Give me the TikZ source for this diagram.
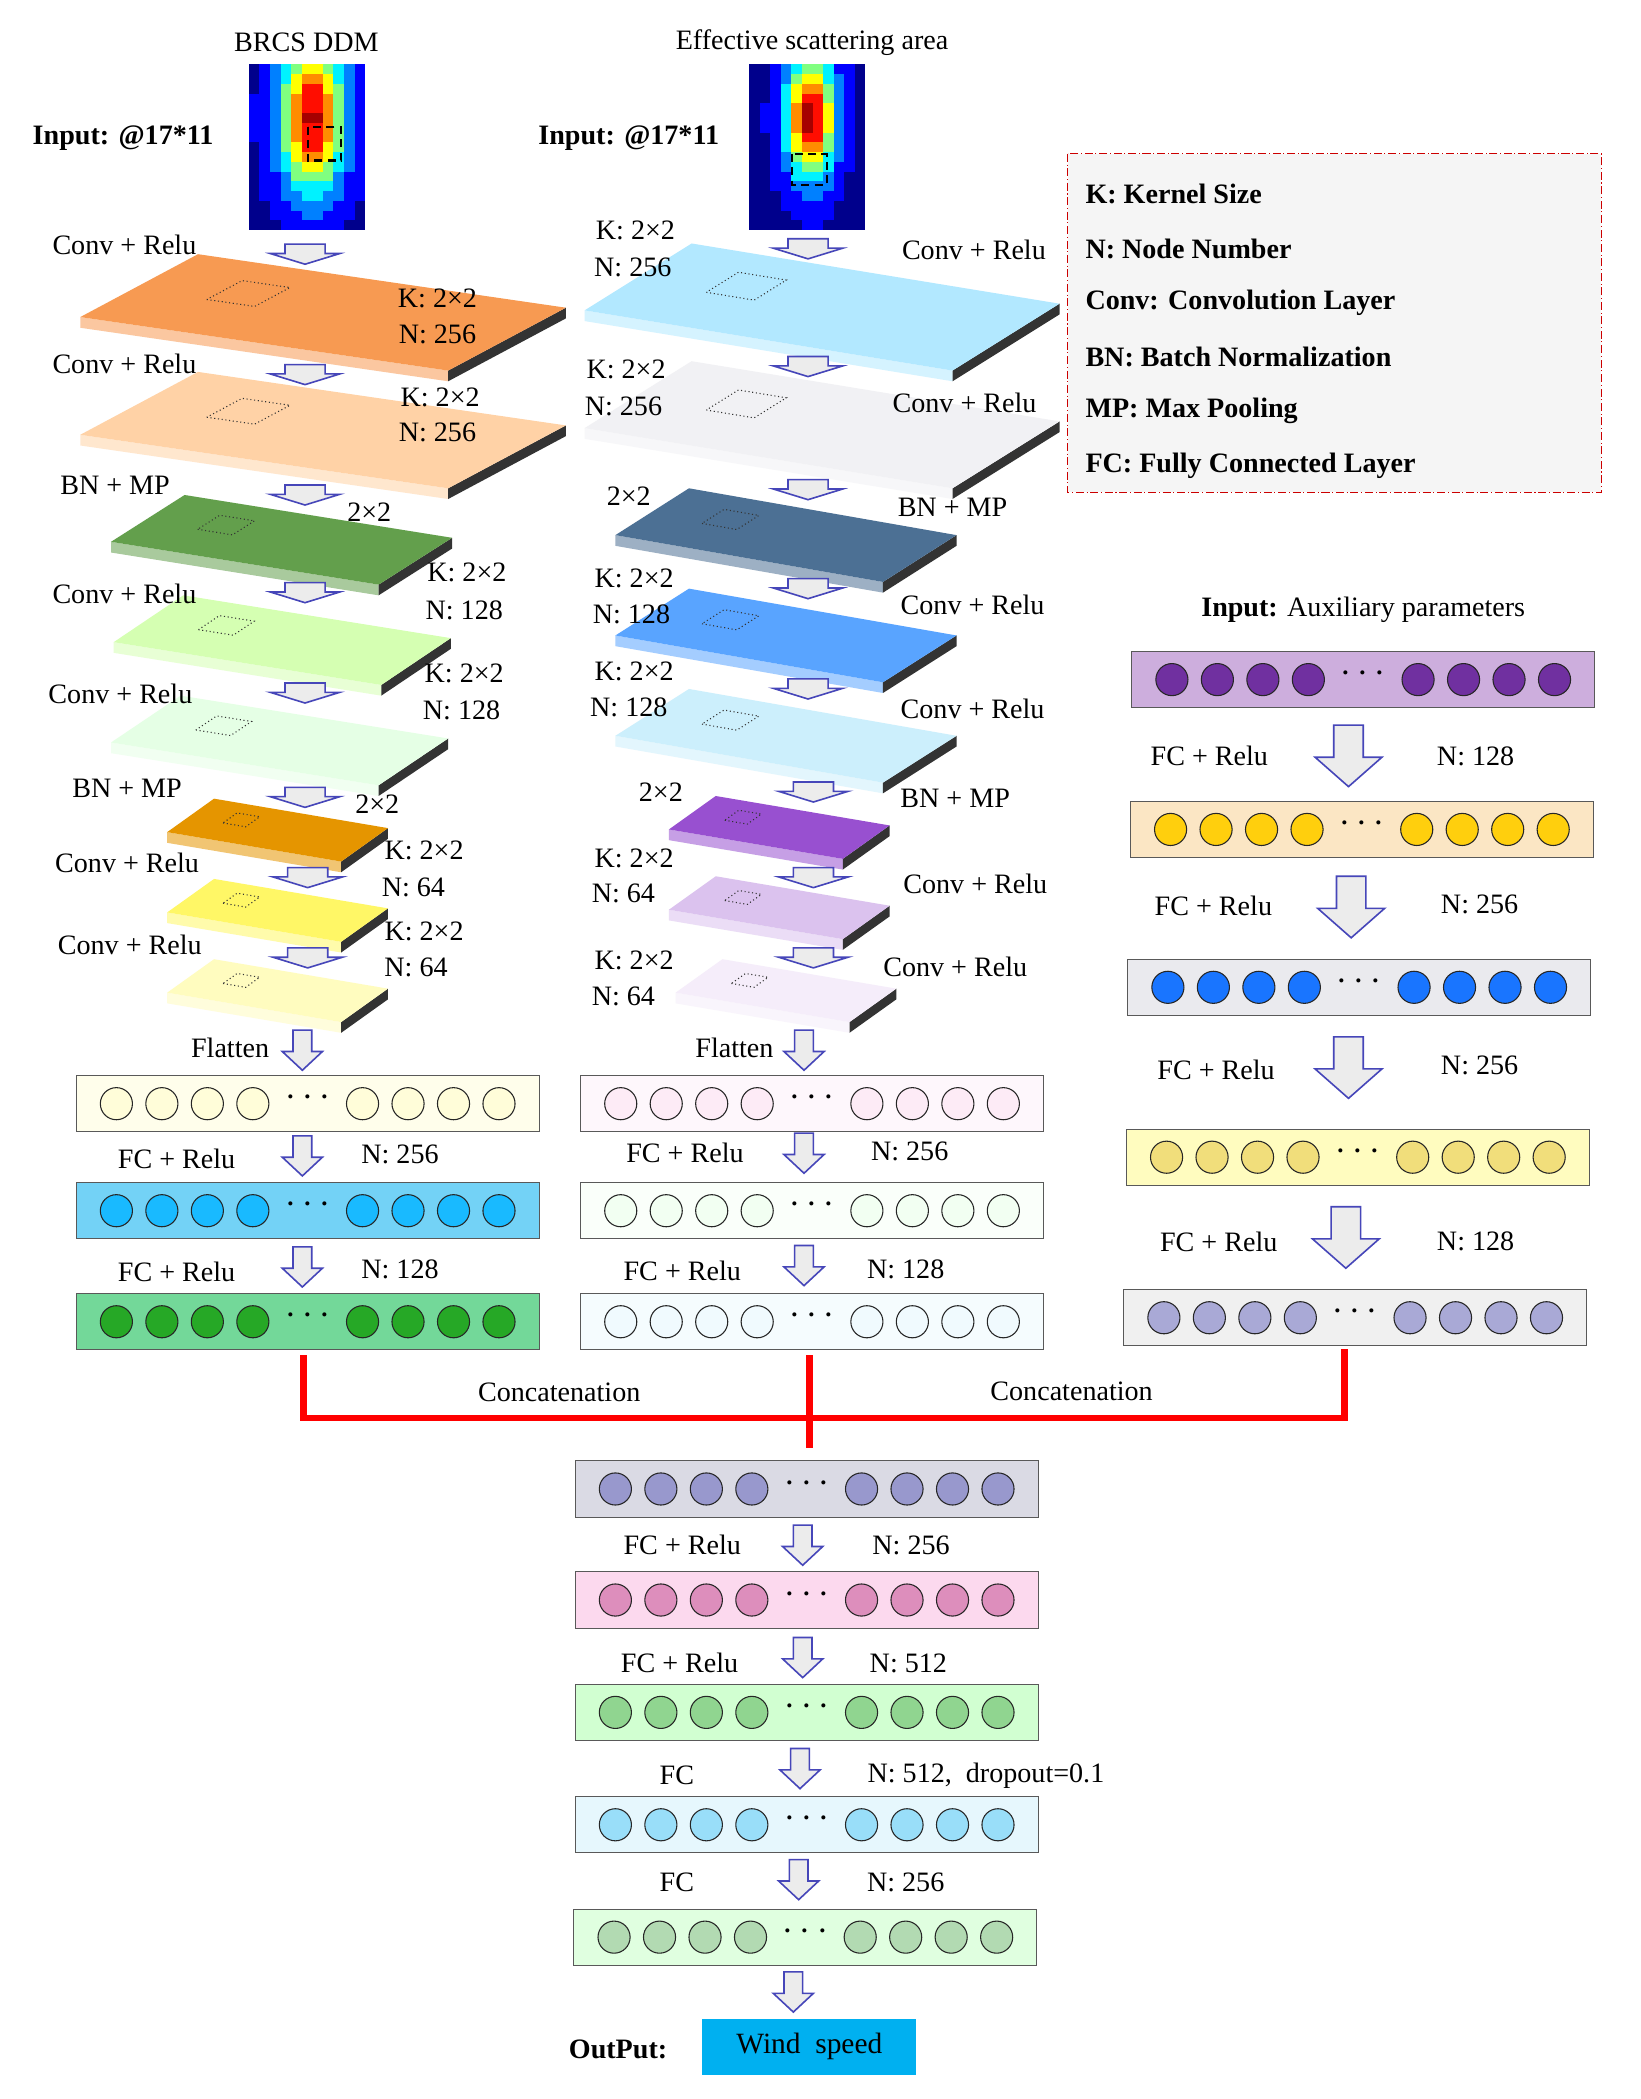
\documentclass[tikz,border=0pt]{standalone}
\usepackage{fontspec}
\setmainfont{Liberation Serif}
\usetikzlibrary{calc}
\definecolor{jet0}{rgb}{0,0,0.55}
\definecolor{jet1}{rgb}{0,0,1}
\definecolor{jet2}{rgb}{0,0.5,1}
\definecolor{jet3}{rgb}{0,0.95,1}
\definecolor{jet4}{rgb}{0.5,1,0.5}
\definecolor{jet5}{rgb}{1,1,0}
\definecolor{jet6}{rgb}{1,0.55,0}
\definecolor{jet7}{rgb}{1,0.05,0}
\definecolor{jet8}{rgb}{0.65,0,0}
\definecolor{slaborange}{HTML}{F79A52}
\definecolor{slabpurple}{HTML}{9850D0}
\definecolor{auxpurplebox}{HTML}{CDAEDD}
\definecolor{auxpurple}{HTML}{7030A0}
\definecolor{auxorangebox}{HTML}{FBE6C4}
\definecolor{windcyan}{HTML}{00B0F0}
\tikzset{
 lab/.style={font=\fontsize{10.5}{12}\selectfont, inner sep=0pt},
 blab/.style={lab, font=\fontsize{10.5}{12}\selectfont\bfseries},
 arr/.style={draw=blue!45!gray, fill=gray!15, line width=0.6pt, line join=miter},
 nbox/.style={draw=gray!70!black, minimum width=173pt, minimum height=21pt, inner sep=0pt},
}
% arrow: name cx cy shafthalf headhalf length headlength
\newcommand\myarrow[7]{%
 \draw[arr] (#2-#4,#3-0.5*#6) -- (#2+#4,#3-0.5*#6) -- (#2+#4,#3+0.5*#6-#7) -- (#2+#5,#3+0.5*#6-#7) -- (#2,#3+0.5*#6) -- (#2-#5,#3+0.5*#6-#7) -- (#2-#4,#3+0.5*#6-#7) -- cycle;
 \coordinate (#1) at (#2,#3);
}
\newcommand\bigarr[3]{\myarrow{#1}{#2}{#3}{11}{25}{46}{22}}
\newcommand\midarr[3]{\myarrow{#1}{#2}{#3}{7}{15}{30}{14}}
\newcommand\flatarr[3]{\myarrow{#1}{#2}{#3}{15}{26}{15}{8}}
% slab: Lx Ly ux uy vx vy color
\newcommand\myslab[7]{%
 \colorlet{slabc}{#7}%
 \fill[slabc!55!white] (#1,#2) -- ++(#3,#4) -- ++(0,8) -- ++(-#3,-#4) -- cycle;
 \fill[black!80] (#1,#2) ++(#3,#4) -- ++(#5,#6) -- ++(0,8) -- ++(-#5,-#6) -- cycle;
 \fill[slabc] (#1,#2) -- ++(#3,#4) -- ++(#5,#6) -- ++(-#3,-#4) -- cycle;
 \draw[densely dotted, black!80] (#1,#2) ++(0.2*#3,0.2*#4) ++(0.45*#5,0.45*#6) -- ++(0.13*#3,0.13*#4) -- ++(0.3*#5,0.3*#6) -- ++(-0.13*#3,-0.13*#4) -- cycle;
}
% neuron box: name cx cy boxcol circcol
\newcommand\mynbox[5]{%
 \node[nbox, fill=#4] (#1) at (#2,#3) {};
 \foreach \dx in {-143,-109,-75,-41,41,75,109,143}
   \draw[black!85, fill=#5] (#2+\dx,#3) circle (12);
 \node[inner sep=0pt, font=\Large\bfseries] at (#2,#3-4) {$\cdots$};
}
\newcommand\myheat[6]{% x0 y0 colcenter rowcenter colsig rowsig
 \foreach \c in {0,...,10}{\foreach \r in {0,...,16}{
  \pgfmathtruncatemacro\idx{min(8,0.7+7.6*exp(-((\c-#3)^2)/(2*#5*#5)-((\r-#4)^2)/(2*#6*#6)))}
  \fill[jet\idx] (#1+\c*7.9,#2+\r*7.3) rectangle ++(7.95,7.35);
 }}
}
\begin{document}
\begin{tikzpicture}[x=0.5pt,y=-0.5pt]
\useasboundingbox (0,0) rectangle (1226,1569);
\fill[white] (0,0) rectangle (1226,1569);

% ===== headers & heatmaps
\node[lab] (t1) at (229,32) {BRCS DDM};
\node[lab] (t2) at (607,32) {Effective scattering area};
\node[blab] (in1) at (92,103) {Input: @17*11};
\node[blab] (in2) at (470,103) {Input: @17*11};
\myheat{186}{48}{5.5}{5}{2.2}{5.5}
\draw[densely dashed, thick] (230,95) rectangle (255,120);
\myheat{560}{48}{5.3}{5}{1.7}{4.5}
\draw[densely dashed, thick] (592,115) rectangle (618,138);

% ===== legend
\draw[red!80!black, densely dashdotted, fill=gray!8] (798,115) rectangle (1197,368);
\node[blab, anchor=west] at (811,145) {K: Kernel Size};
\node[blab, anchor=west] at (811,186) {N: Node Number};
\node[blab, anchor=west] at (811,226) {Conv: Convolution Layer};
\node[blab, anchor=west] at (811,267) {BN: Batch Normalization};
\node[blab, anchor=west] at (811,307) {MP: Max Pooling};
\node[blab, anchor=west] at (811,348) {FC: Fully Connected Layer};

% ===== left column slabs
\flatarr{la1}{228}{190}
\myslab{60}{237}{275}{40}{88}{-47}{slaborange}
\flatarr{la2}{228}{280}
\myslab{60}{325}{275}{40}{88}{-47}{orange!35}
\flatarr{la3}{228}{370}
\myslab{83}{405}{200}{32}{55}{-35}{green!45!black!75!olive!70}
\flatarr{la4}{228}{443}
\myslab{85}{480}{200}{32}{52}{-35}{green!40!lime!30}
\flatarr{la5}{228}{518}
\myslab{83}{555}{200}{32}{52}{-35}{green!10}
\flatarr{la6}{228}{596}
\myslab{125}{622}{130}{22}{35}{-25}{orange!70!yellow!90!black}
\flatarr{la7}{230}{656}
\myslab{125}{682}{130}{22}{35}{-25}{yellow!60}
\flatarr{la8}{230}{716}
\myslab{125}{742}{130}{22}{35}{-25}{yellow!25}

\node[lab] at (93,183) {Conv + Relu};
\node[lab] at (327,223) {K: 2×2};
\node[lab] at (327,250) {N: 256};
\node[lab] at (93,272) {Conv + Relu};
\node[lab] at (329,297) {K: 2×2};
\node[lab] at (327,323) {N: 256};
\node[lab] at (86,363) {BN + MP};
\node[lab] at (276,383) {2×2};
\node[lab] at (93,444) {Conv + Relu};
\node[lab] at (349,428) {K: 2×2};
\node[lab] at (347,456) {N: 128};
\node[lab] at (90,519) {Conv + Relu};
\node[lab] at (347,503) {K: 2×2};
\node[lab] at (345,531) {N: 128};
\node[lab] at (95,589) {BN + MP};
\node[lab] at (282,601) {2×2};
\node[lab] at (95,645) {Conv + Relu};
\node[lab] at (317,636) {K: 2×2};
\node[lab] at (309,663) {N: 64};
\node[lab] at (97,706) {Conv + Relu};
\node[lab] at (317,696) {K: 2×2};
\node[lab] at (311,723) {N: 64};
\node[lab] at (172,783) {Flatten};

% ===== middle column slabs
\flatarr{ma1}{604}{186}
\myslab{437}{232}{275}{45}{80}{-50}{blue!30!cyan!30}
\flatarr{ma2}{604}{274}
\myslab{437}{320}{275}{45}{80}{-50}{blue!12!gray!10}
\flatarr{ma3}{604}{366}
\myslab{460}{400}{200}{35}{55}{-35}{blue!50!cyan!40!black!70}
\flatarr{ma4}{604}{440}
\myslab{460}{475}{200}{35}{55}{-35}{blue!55!cyan!65}
\flatarr{ma5}{604}{515}
\myslab{460}{550}{200}{35}{55}{-35}{cyan!20}
\flatarr{ma6}{608}{592}
\myslab{500}{620}{130}{22}{35}{-25}{slabpurple}
\flatarr{ma7}{608}{656}
\myslab{500}{680}{130}{22}{35}{-25}{slabpurple!35}
\flatarr{ma8}{608}{716}
\myslab{505}{742}{130}{22}{35}{-25}{slabpurple!10}

\node[lab] at (475,172) {K: 2×2};
\node[lab] at (473,200) {N: 256};
\node[lab] at (728,187) {Conv + Relu};
\node[lab] at (468,276) {K: 2×2};
\node[lab] at (466,304) {N: 256};
\node[lab] at (721,301) {Conv + Relu};
\node[lab] at (470,371) {2×2};
\node[lab] at (712,379) {BN + MP};
\node[lab] at (474,432) {K: 2×2};
\node[lab] at (472,459) {N: 128};
\node[lab] at (727,452) {Conv + Relu};
\node[lab] at (474,502) {K: 2×2};
\node[lab] at (470,529) {N: 128};
\node[lab] at (727,530) {Conv + Relu};
\node[lab] at (494,592) {2×2};
\node[lab] at (714,597) {BN + MP};
\node[lab] at (474,642) {K: 2×2};
\node[lab] at (466,668) {N: 64};
\node[lab] at (729,661) {Conv + Relu};
\node[lab] at (474,718) {K: 2×2};
\node[lab] at (466,745) {N: 64};
\node[lab] at (714,723) {Conv + Relu};
\node[lab] at (549,783) {Flatten};

% ===== left & middle dense boxes
\midarr{lf}{226}{785}
\mynbox{L1}{230}{825}{yellow!8}{yellow!15}
\midarr{lf2}{226}{864}
\mynbox{L2}{230}{905}{cyan!55}{blue!30!cyan!90}
\midarr{lf3}{226}{947}
\mynbox{L3}{230}{988}{green!45!teal!55}{green!60!black!85}
\node[lab] at (132,866) {FC + Relu};
\node[lab] at (299,863) {N: 256};
\node[lab] at (132,951) {FC + Relu};
\node[lab] at (299,949) {N: 128};

\midarr{mf}{601}{785}
\mynbox{M1}{607}{825}{magenta!3}{magenta!8}
\midarr{mf2}{601}{862}
\mynbox{M2}{607}{905}{green!2}{green!5}
\midarr{mf3}{601}{946}
\mynbox{M3}{607}{988}{cyan!4}{cyan!6}
\node[lab] at (512,862) {FC + Relu};
\node[lab] at (680,861) {N: 256};
\node[lab] at (510,950) {FC + Relu};
\node[lab] at (677,949) {N: 128};

% ===== right column
\node[lab] at (1019,456) {\textbf{Input:} Auxiliary parameters};
\mynbox{R1}{1019}{508}{auxpurplebox}{auxpurple}
\bigarr{ra1}{1008}{565}
\mynbox{R2}{1018}{620}{auxorangebox}{orange!40!yellow!95}
\bigarr{ra2}{1010}{678}
\mynbox{R3}{1016}{738}{blue!12!gray!15}{blue!60!cyan!90}
\bigarr{ra3}{1008}{798}
\mynbox{R4}{1015}{865}{yellow!25}{yellow!60!brown!60}
\bigarr{ra4}{1006}{925}
\mynbox{R5}{1013}{985}{gray!12}{blue!35!gray!50}
\node[lab] at (904,565) {FC + Relu};
\node[lab] at (1103,565) {N: 128};
\node[lab] at (907,677) {FC + Relu};
\node[lab] at (1106,676) {N: 256};
\node[lab] at (909,800) {FC + Relu};
\node[lab] at (1106,796) {N: 256};
\node[lab] at (911,928) {FC + Relu};
\node[lab] at (1103,928) {N: 128};

% ===== concatenation
\coordinate (J1) at (227,1060);
\coordinate (J2) at (1005,1060);
\coordinate (J3) at (605,1082);
\draw[red, line width=2.5pt] (227,1013) -- (J1) -- (J2) -- (1005,1008);
\draw[red, line width=2.5pt] (605,1013) -- (J3);
\node[lab] at (418,1041) {Concatenation};
\node[lab] at (801,1040) {Concatenation};

% ===== bottom stack
\mynbox{B1}{603}{1113}{blue!15!gray!25}{blue!35!gray!60}
\midarr{ba1}{600}{1155}
\mynbox{B2}{603}{1196}{magenta!15}{magenta!50!violet!50}
\midarr{ba2}{600}{1239}
\mynbox{B3}{603}{1280}{green!18}{green!45!gray!60}
\midarr{ba3}{598}{1322}
\mynbox{B4}{603}{1364}{cyan!10}{cyan!40}
\midarr{ba4}{597}{1405}
\mynbox{B5}{602}{1448}{green!12}{green!35!gray!45}
\midarr{ba5}{593}{1489}
\node[lab] at (510,1155) {FC + Relu};
\node[lab] at (681,1155) {N: 256};
\node[lab] at (508,1243) {FC + Relu};
\node[lab] at (679,1243) {N: 512};
\node[lab] at (506,1327) {FC};
\node[lab] at (737,1327) {N: 512,\ \ dropout=0.1};
\node[lab] at (506,1407) {FC};
\node[lab] at (677,1407) {N: 256};

\node[blab] (op) at (462,1532) {OutPut:};
\node[fill=windcyan, minimum width=80pt, minimum height=21pt, font=\fontsize{11}{12}\selectfont] (ws) at (605,1530) {Wind\ \ speed};
\end{tikzpicture}
\end{document}
